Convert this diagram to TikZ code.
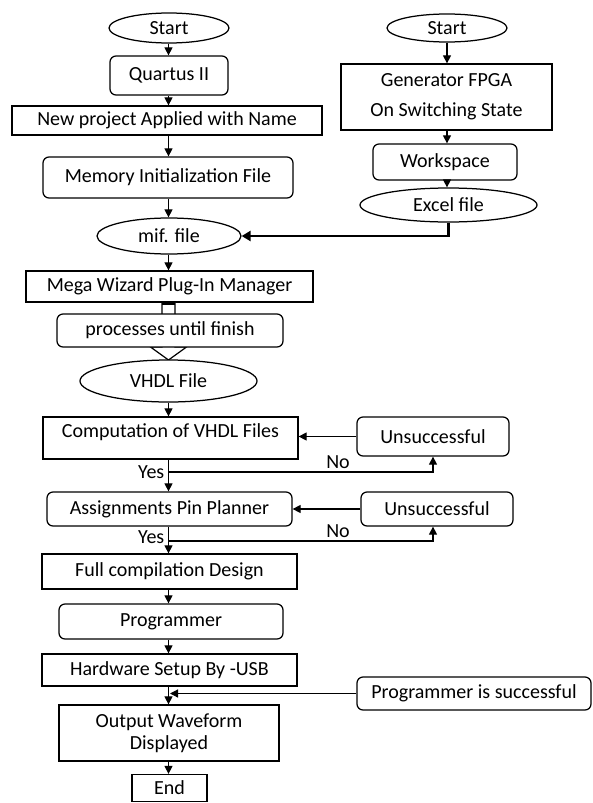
\documentclass[tikz,border=0pt]{standalone}
\usepackage{fontspec}
\setmainfont{Carlito}
\usetikzlibrary{shapes.geometric,arrows.meta}
\tikzset{
 base/.style={draw, line width=1.25pt, fill=white, inner sep=0pt, align=center, font=\fontsize{20}{22}\selectfont},
 box/.style={base, rectangle},
 rbox/.style={base, rectangle, rounded corners=6pt},
 oval/.style={base, ellipse},
 lbl/.style={inner sep=0pt, font=\fontsize{20}{22}\selectfont},
 arr/.style={line width=1.2pt, -{Triangle[length=8pt,width=8pt]}},
 thickarr/.style={line width=2.4pt, -{Triangle[length=9pt,width=10pt]}},
}
\begin{document}
\begin{tikzpicture}[x=1pt,y=-1pt]
\useasboundingbox (0,0) rectangle (592,803);
\coordinate (m) at (168.5,0);
% left column
\node[oval, minimum width=120, minimum height=30] (s1) at (169,28) {Start};
\node[rbox, minimum width=118, minimum height=39] (qu) at (169,75.5) {Quartus II};
\node[box, minimum width=310, minimum height=29] (np) at (167,120.5) {New project Applied with Name};
\node[rbox, minimum width=250, minimum height=41] (mi) at (168,177.5) {Memory Initialization File};
\node[oval, minimum width=144, minimum height=36] (mif) at (169,236) {mif. file};
% right column
\node[oval, minimum width=120, minimum height=28] (s2) at (447,28) {Start};
\node[box, minimum width=211, minimum height=66] (gen) at (446.5,97) {Generator FPGA\\[8pt]On Switching State};
\node[rbox, minimum width=144, minimum height=36] (ws) at (445,162) {Workspace};
\node[oval, minimum width=177, minimum height=34] (ex) at (448.5,205) {Excel file};
% middle
\node[box, minimum width=287, minimum height=31] (mw) at (169.5,286.5) {Mega Wizard Plug-In Manager};
\draw[line width=1.2pt, fill=white] (162,302) -- (162,347) -- (150.5,347) -- (168.5,360) -- (186.5,347) -- (175,347) -- (175,302);
\fill (162,301) rectangle (175,305);
\node[rbox, minimum width=226, minimum height=33] (pr) at (170,330.5) {processes until finish};
\node[oval, minimum width=177, minimum height=42] (vh) at (168.5,381) {VHDL File};
\node[box, minimum width=255, minimum height=42, text depth=14pt] (cp) at (170.5,438) {Computation of VHDL Files};
\node[rbox, minimum width=152, minimum height=39] (u1) at (433,436.5) {Unsuccessful};
\node[rbox, minimum width=245, minimum height=34] (as) at (169.5,509) {Assignments Pin Planner};
\node[rbox, minimum width=152, minimum height=34] (u2) at (437,509) {Unsuccessful};
\node[box, minimum width=255, minimum height=35] (fc) at (169.5,571.5) {Full compilation Design};
\node[rbox, minimum width=224, minimum height=35] (pg) at (171,621.5) {Programmer};
\node[box, minimum width=255, minimum height=32] (hw) at (169.5,670) {Hardware Setup By -USB};
\node[rbox, minimum width=234, minimum height=33] (ps) at (474,693.5) {Programmer is successful};
\node[box, minimum width=220, minimum height=56] (ow) at (169,733) {Output Waveform\\Displayed};
\node[box, minimum width=75, minimum height=27] (en) at (169.5,788) {End};
% connectors main column
\draw[arr] (s1.south -| m) -- (qu.north -| m);
\draw[arr] (qu.south -| m) -- (np.north -| m);
\draw[arr] (np.south -| m) -- (mi.north -| m);
\draw[arr] (mi.south -| m) -- (mif.north -| m);
\draw[arr] (mif.south -| m) -- (mw.north -| m);
\draw[arr] (vh.south -| m) -- (cp.north -| m);
\draw[arr] (cp.south -| m) -- (as.north -| m);
\draw[arr] (as.south -| m) -- (fc.north -| m);
\draw[arr] (fc.south -| m) -- (pg.north -| m);
\draw[arr] (pg.south -| m) -- (hw.north -| m);
\draw[arr] (hw.south -| m) -- (ow.north -| m);
\draw[arr] (ow.south -| m) -- (en.north -| m);
% right column
\draw[arr] (s2.south) -- (s2.south |- gen.north);
\draw[arr] (s2.south |- gen.south) -- (s2.south |- ws.north);
\draw[arr] (s2.south |- ws.south) -- (s2.south |- ex.north);
\draw[thickarr] (ex.south) |- (mif.east);
% loops
\draw[arr] (u1.west) -- (u1.west -| cp.east);
\coordinate (y1) at (168.5,472);
\draw[arr] (y1) -| (u1.south);
\node[lbl, anchor=east] (yes1) at ([xshift=-4pt]y1) {Yes};
\node[lbl] (no1) at (338,462) {No};
\draw[arr] (u2.west) -- (u2.west -| as.east);
\coordinate (y2) at (168.5,541);
\draw[arr] (y2) -| ([xshift=-4pt]u2.south);
\node[lbl, anchor=east] (yes2) at ([xshift=-4pt,yshift=4pt]y2) {Yes};
\node[lbl] (no2) at (338,531) {No};
% join
\coordinate (j) at (170,693);
\draw[arr] (ps.west) -- (ps.west -| j);
\end{tikzpicture}
\end{document}
